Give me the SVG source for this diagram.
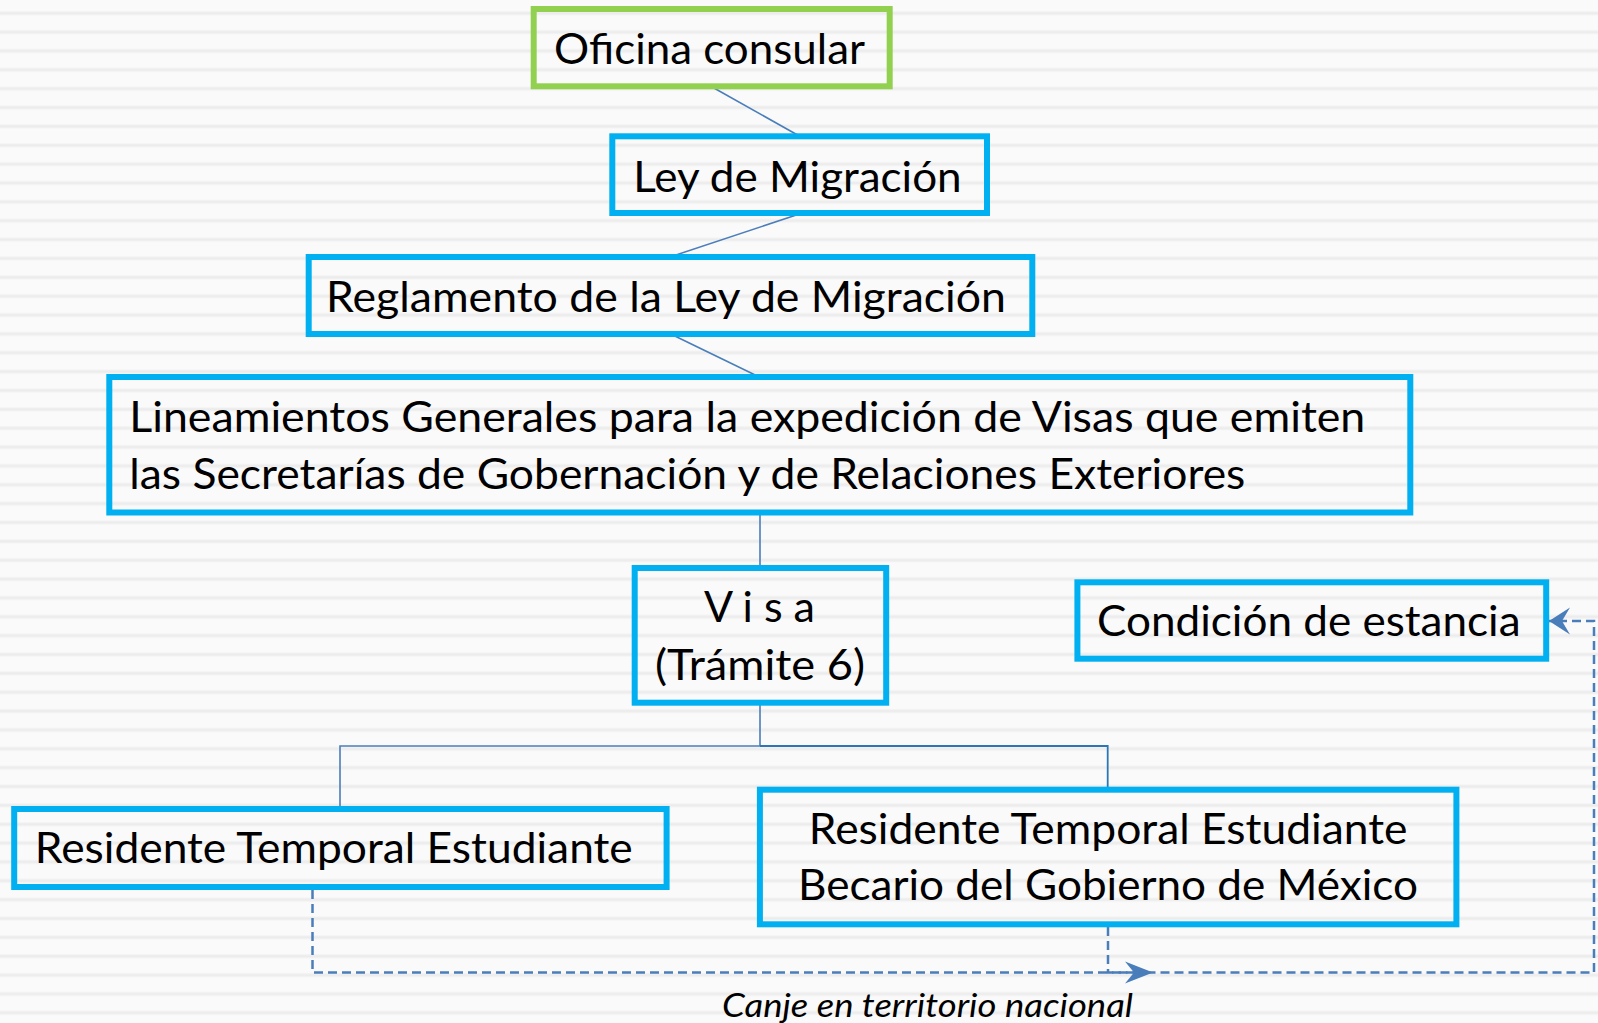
<svg xmlns="http://www.w3.org/2000/svg" width="1598" height="1023" viewBox="0 0 1598 1023">
<defs>
<pattern id="stripes" patternUnits="userSpaceOnUse" x="0" y="0" width="20" height="18.86">
<rect x="0" y="0" width="20" height="18.86" fill="#FAFAFA"/>
<rect x="0" y="11.3" width="20" height="4" fill="#F3F3F3"/>
<rect x="0" y="12.3" width="20" height="2" fill="#ECECEC"/>
</pattern>
<marker id="stealthA" markerUnits="userSpaceOnUse" viewBox="-30 -13 31 26" refX="0" refY="0" markerWidth="31" markerHeight="26" orient="auto">
<path d="M0,0 L-28,-11 L-19,0 L-28,11 Z" fill="#4A7EBB"/>
</marker>
<marker id="stealthB" markerUnits="userSpaceOnUse" viewBox="-23 -15 24 30" refX="0" refY="0" markerWidth="24" markerHeight="30" orient="auto">
<path d="M0,0 L-21,-13.5 L-13,0 L-21,13.5 Z" fill="#4A7EBB"/>
</marker>
<style>
.box{fill:none;stroke:#00B0F0;stroke-width:6}
.green{fill:none;stroke:#92D050;stroke-width:6}
.t{font-family:Lato,"Liberation Sans",sans-serif;font-size:42px;fill:#000}
.it{font-family:Lato,"Liberation Sans",sans-serif;font-size:33px;font-style:italic;fill:#000}
.line{fill:none;stroke:#4A7EBB;stroke-width:1.6}
.line2{fill:none;stroke:#2E75B6;stroke-width:1.8}
.dash{fill:none;stroke:#4A7EBB;stroke-width:2.5;stroke-dasharray:9 5}
</style>
</defs>
<rect x="0" y="0" width="1598" height="1023" fill="url(#stripes)"/>

<g id="connectors">
<line class="line" x1="711.7" y1="86.7" x2="799.3" y2="136"/>
<line class="line" x1="799.3" y1="214" x2="670.7" y2="256.7"/>
<line class="line" x1="670.7" y1="334" x2="759.3" y2="377"/>
<line class="line" x1="760" y1="512" x2="760" y2="568"/>
<path class="line" d="M760,703 V746 H340 V809"/>
<path class="line2" d="M760,746 H1107.7 V789.7"/>
<path class="dash" d="M312.5,890 V972.5 H1153" marker-end="url(#stealthA)"/>
<path class="dash" d="M1108,927 V972.5 H1594 V621 H1549" marker-end="url(#stealthB)"/>
<text class="it" x="722" y="1016.5" textLength="411" lengthAdjust="spacingAndGlyphs">Canje en territorio nacional</text>
</g>

<g id="oficina">
<rect class="green" x="533.7" y="9" width="356" height="77.3"/>
<text class="t" x="554" y="64" textLength="311" lengthAdjust="spacingAndGlyphs">Oficina consular</text>
</g>

<g id="ley">
<rect class="box" x="612.3" y="136.3" width="374.7" height="76.7"/>
<text class="t" x="633.3" y="191.7" textLength="328.4" lengthAdjust="spacingAndGlyphs">Ley de Migración</text>
</g>

<g id="reglamento">
<rect class="box" x="308.7" y="257" width="723.6" height="77"/>
<text class="t" x="326" y="311.5" textLength="680" lengthAdjust="spacingAndGlyphs">Reglamento de la Ley de Migración</text>
</g>

<g id="lineamientos">
<rect class="box" x="109.3" y="377" width="1301" height="135.5"/>
<text class="t" x="129.3" y="431.5" textLength="1236" lengthAdjust="spacingAndGlyphs">Lineamientos Generales para la expedición de Visas que emiten</text>
<text class="t" x="129.3" y="488.5" textLength="1116" lengthAdjust="spacingAndGlyphs">las Secretarías de Gobernación y de Relaciones Exteriores</text>
</g>

<g id="visa">
<rect class="box" x="634.7" y="568" width="251.5" height="134.7"/>
<text class="t" x="704" y="621.7" textLength="111" lengthAdjust="spacingAndGlyphs">V i s a</text>
<text class="t" x="655" y="680" textLength="210" lengthAdjust="spacingAndGlyphs">(Trámite 6)</text>
</g>

<g id="condicion">
<rect class="box" x="1077.4" y="582.3" width="468.8" height="76.4"/>
<text class="t" x="1097" y="636" textLength="423.6" lengthAdjust="spacingAndGlyphs">Condición de estancia</text>
</g>

<g id="residente">
<rect class="box" x="14.2" y="809" width="652.4" height="78"/>
<text class="t" x="34.8" y="863.3" textLength="598" lengthAdjust="spacingAndGlyphs">Residente Temporal Estudiante</text>
</g>

<g id="becario">
<rect class="box" x="759.9" y="789.7" width="696.5" height="134.6"/>
<text class="t" x="808.8" y="844" textLength="598.7" lengthAdjust="spacingAndGlyphs">Residente Temporal Estudiante</text>
<text class="t" x="798" y="900" textLength="620" lengthAdjust="spacingAndGlyphs">Becario del Gobierno de México</text>
</g>
</svg>
